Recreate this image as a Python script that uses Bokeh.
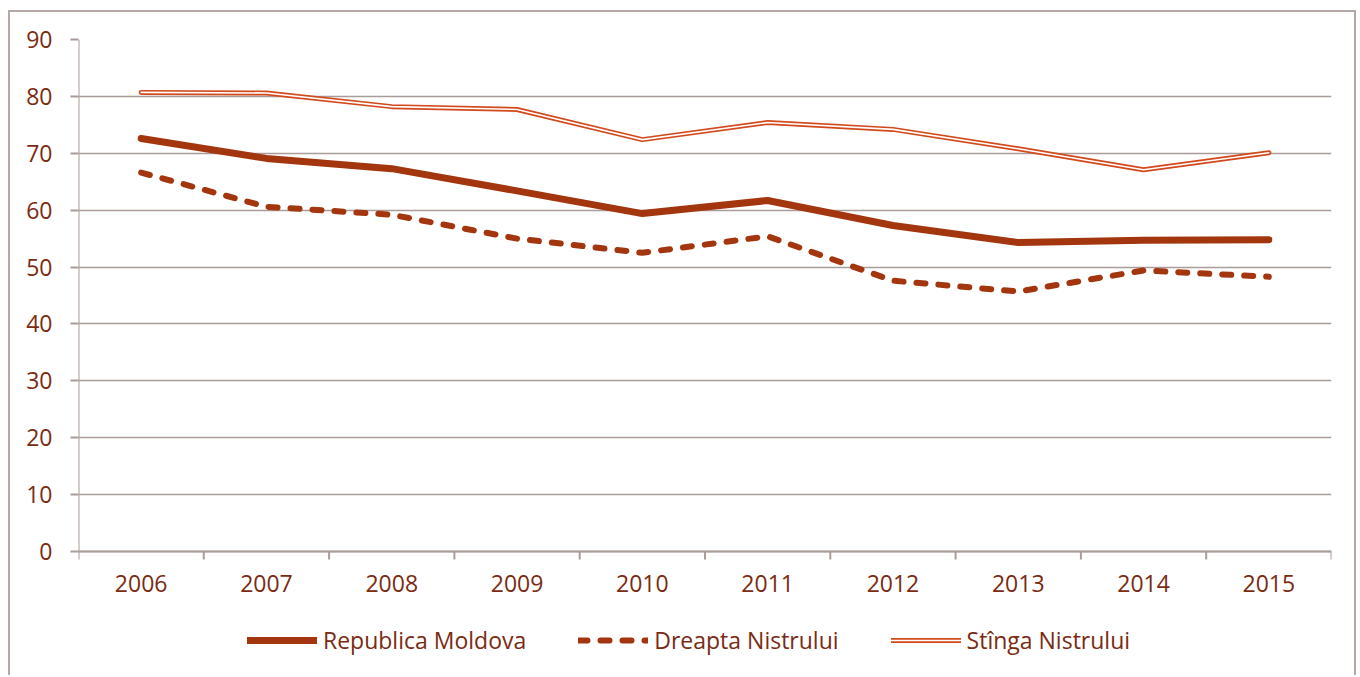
from bokeh.plotting import figure
from bokeh.models import FixedTicker, Legend, LegendItem, Range1d
from bokeh.core.properties import value
from bokeh.embed import file_html
from bokeh.resources import INLINE

years = ["2006", "2007", "2008", "2009", "2010", "2011", "2012", "2013", "2014", "2015"]
republica_moldova = [72.6, 69.1, 67.3, 63.4, 59.4, 61.7, 57.3, 54.3, 54.7, 54.8]
dreapta_nistrului = [66.6, 60.6, 59.2, 55.0, 52.5, 55.4, 47.6, 45.7, 49.4, 48.3]
stinga_nistrului = [80.7, 80.6, 78.2, 77.7, 72.4, 75.4, 74.2, 70.8, 67.1, 70.1]
y_ticks = [0, 10, 20, 30, 40, 50, 60, 70, 80, 90]

TEXT = "#7A2B12"
GRID = "#A99C99"
FRAME = "#B5A9A6"
DARK = "#A3360E"
ORANGE = "#D2491C"
FONT = "Open Sans"

W, H = 1344, 663
H_EFF = H + 2              # drawn canvas height incl. border allowance
LEFT, RIGHT, TOP = 68, 27, 27
AXIS_PX = 512              # pixels from 0 to 90
PX = AXIS_PX / 90.0        # pixels per unit
bottom_px = H_EFF - TOP - AXIS_PX   # frame space below the zero line
y_min = -bottom_px / PX

n = len(years)
x = [i + 0.5 for i in range(n)]

p = figure(width=W, height=H, output_backend="svg", toolbar_location=None,
           x_range=Range1d(0, n), y_range=Range1d(y_min, 90),
           min_border_left=LEFT, min_border_right=RIGHT, min_border_top=TOP, min_border_bottom=0)
p.styles = {"margin-left": "8px", "margin-top": "10px",
            "border-left": f"2px solid {FRAME}", "border-top": f"2px solid {FRAME}",
            "border-right": f"2px solid {FRAME}", "box-sizing": "content-box"}
p.outline_line_color = None
p.background_fill_color = "white"
p.border_fill_color = "white"

# horizontal grid
p.ygrid.ticker = FixedTicker(ticks=y_ticks)
p.ygrid.grid_line_color = GRID
p.ygrid.grid_line_width = 1.6
p.xgrid.grid_line_color = None

# y axis (ticks + labels), axis line drawn separately from 0 to 90
p.yaxis.ticker = FixedTicker(ticks=y_ticks)
p.yaxis.major_tick_out = 8
p.yaxis.major_tick_in = 0
p.yaxis.minor_tick_line_color = None
p.yaxis.major_label_standoff = 18
p.yaxis.axis_line_color = None
p.yaxis.major_tick_line_color = GRID
p.yaxis.major_tick_line_width = 2
p.yaxis.major_label_text_color = TEXT
p.yaxis.major_label_text_font = FONT
p.yaxis.major_label_text_font_size = "23px"
p.segment(x0=[0], y0=[0], x1=[0], y1=[max(y_ticks)], line_color=GRID, line_width=2)

# x axis drawn at zero
p.xaxis.visible = False
p.segment(x0=[0], y0=[0], x1=[n], y1=[0], line_color=GRID, line_width=2)
bounds = list(range(n + 1))
p.segment(x0=bounds, y0=[0] * len(bounds), x1=bounds, y1=[-8 / PX] * len(bounds),
          line_color=GRID, line_width=2)
p.text(x=x, y=[-32 / PX] * n, text=years, text_align="center", text_baseline="middle",
       text_color=TEXT, text_font=value(FONT), text_font_size="23px")

r1 = p.line(x, republica_moldova, line_color=DARK, line_width=7, line_cap="round", line_join="round")
r2 = p.line(x, dreapta_nistrului, line_color=DARK, line_width=6, line_dash="9 13",
            line_cap="round", line_join="round")
r3a = p.line(x, stinga_nistrului, line_color=ORANGE, line_width=5, line_cap="round", line_join="round")
r3b = p.line(x, stinga_nistrului, line_color="white", line_width=1.6, line_cap="round", line_join="round")

legend = Legend(items=[
    LegendItem(label="Republica Moldova", renderers=[r1]),
    LegendItem(label="Dreapta Nistrului", renderers=[r2]),
    LegendItem(label="Stînga Nistrului", renderers=[r3a, r3b]),
], orientation="horizontal", location=(169, 21))
legend.glyph_width = 70
legend.glyph_height = 20
legend.label_standoff = 6
legend.spacing = 52
legend.label_text_font = FONT
legend.label_text_font_size = "23px"
legend.label_text_color = TEXT
legend.border_line_color = None
legend.background_fill_alpha = 0
legend.margin = 0
legend.padding = 0
p.add_layout(legend, "center")

open("out.html", "w").write(file_html(p, INLINE))
